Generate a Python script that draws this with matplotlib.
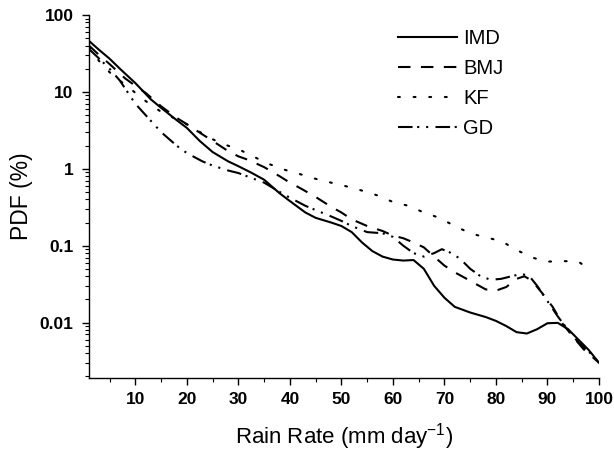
import matplotlib
matplotlib.use("Agg")
import matplotlib.pyplot as plt
from matplotlib.ticker import LogLocator, FixedLocator, FuncFormatter, MultipleLocator, NullFormatter

plt.rcParams['font.family'] = ['Liberation Sans', 'DejaVu Sans']

imd_x = [1, 3, 5, 7, 10, 13, 15, 18, 20, 22.5, 25, 28, 30, 32.5, 35, 38, 40, 43, 45, 48, 50, 52, 54, 56, 58, 60, 62, 64, 66, 68, 70, 72, 75, 78, 80, 82, 84, 86, 88, 90, 92, 94, 96, 98, 100]
imd_y = [46, 35, 27, 20, 13, 8, 6.2, 4.3, 3.4, 2.3, 1.65, 1.25, 1.08, 0.89, 0.72, 0.48, 0.38, 0.27, 0.23, 0.2, 0.18, 0.15, 0.11, 0.085, 0.072, 0.066, 0.064, 0.065, 0.05, 0.03, 0.021, 0.016, 0.0135, 0.0118, 0.0105, 0.009, 0.0075, 0.0072, 0.0082, 0.0098, 0.0099, 0.0082, 0.006, 0.0044, 0.003]

bmj_x = [1, 3, 5, 8, 10, 12, 15, 18, 20, 22, 25, 28, 30, 32, 35, 38, 40, 42, 45, 48, 50, 52, 55, 58, 60, 62, 64, 66, 68, 70, 72, 74, 76, 78, 80, 82, 84, 85.5, 87, 89, 91, 93, 95, 97, 100]
bmj_y = [40, 30, 23, 15, 12, 9.7, 6.5, 4.6, 3.8, 3.1, 2.3, 1.7, 1.45, 1.3, 1.05, 0.8, 0.66, 0.56, 0.43, 0.32, 0.27, 0.22, 0.18, 0.155, 0.135, 0.125, 0.11, 0.095, 0.072, 0.055, 0.045, 0.038, 0.032, 0.027, 0.026, 0.029, 0.037, 0.04, 0.035, 0.024, 0.016, 0.0095, 0.0065, 0.0045, 0.003]

kf_x = [1, 3, 5, 7, 9, 12, 15, 18, 21, 24, 27, 30, 33, 36, 39, 42, 45, 48, 51, 54, 57, 60, 63, 66, 69, 72, 75, 78, 81, 84, 87, 90, 93, 96, 98]
kf_y = [38, 25, 18, 14, 11, 7.6, 5.5, 4.4, 3.5, 2.6, 2.1, 1.8, 1.43, 1.15, 0.97, 0.85, 0.74, 0.66, 0.59, 0.52, 0.45, 0.37, 0.33, 0.27, 0.23, 0.18, 0.145, 0.128, 0.115, 0.088, 0.07, 0.062, 0.063, 0.062, 0.05]

gd_x = [1, 3, 5, 7, 10, 13, 15, 18, 20, 23, 25, 28, 30, 33, 35, 38, 40, 43, 45, 48, 50, 52, 55, 58, 60, 62, 64, 66, 68, 69.5, 71, 73, 75, 77, 79, 81, 83, 85, 86.5, 88, 90, 92, 94, 96, 98, 100]
gd_y = [36, 27, 20, 14, 7, 4.2, 3, 2, 1.6, 1.25, 1.1, 0.95, 0.88, 0.74, 0.66, 0.5, 0.42, 0.33, 0.29, 0.24, 0.21, 0.18, 0.15, 0.145, 0.13, 0.1, 0.08, 0.072, 0.08, 0.09, 0.082, 0.068, 0.05, 0.04, 0.036, 0.037, 0.04, 0.043, 0.04, 0.03, 0.019, 0.012, 0.008, 0.0055, 0.0042, 0.003]

labels = ["IMD", "BMJ", "KF", "GD"]
y_ticks = [0.01, 0.1, 1, 10, 100]
x_ticks = [10, 20, 30, 40, 50, 60, 70, 80, 90, 100]

fig = plt.figure(figsize=(6.14, 4.53), dpi=100)
ax = fig.add_axes([89/614, 1 - 378/453, (599 - 89)/614, (378 - 15)/453])

lw = 1.5
ax.plot(imd_x, imd_y, color='black', lw=lw, ls='-', label=labels[0])
ax.plot(bmj_x, bmj_y, color='black', lw=lw, ls=(0, (6, 5)), label=labels[1])
ax.plot(kf_x, kf_y, color='black', lw=lw, ls=(0, (0.9, 6.6)), dash_capstyle='round', label=labels[2])
ax.plot(gd_x, gd_y, color='black', lw=lw, ls=(0, (7, 2.2, 1, 3.3, 1, 3.5)), label=labels[3])

ax.set_yscale('log')
ax.set_xlim(1, 100)
ax.set_ylim(0.0019, 100)
ax.xaxis.set_major_locator(FixedLocator(x_ticks))
ax.xaxis.set_minor_locator(MultipleLocator(5))
ax.yaxis.set_major_locator(FixedLocator(y_ticks))
ax.yaxis.set_minor_locator(LogLocator(base=10, subs=range(2, 10), numticks=20))
ax.yaxis.set_major_formatter(FuncFormatter(lambda v, p: '%g' % v))
ax.yaxis.set_minor_formatter(NullFormatter())

for s in ['top', 'right']:
    ax.spines[s].set_visible(False)
for s in ['left', 'bottom']:
    ax.spines[s].set_linewidth(1.0)

ax.tick_params(which='major', direction='out', length=5, width=1.0, labelsize=12.5)
ax.tick_params(which='minor', direction='out', length=3, width=0.8)
ax.tick_params(axis='x', which='major', pad=5)
ax.tick_params(axis='y', which='major', pad=6)
for t in ax.get_xticklabels() + ax.get_yticklabels():
    t.set_fontweight('bold')

ax.set_xlabel('Rain Rate (mm day$^{\\mathregular{-1}}$)', fontsize=16, labelpad=10)
ax.set_ylabel('PDF (%)', fontsize=16.5, labelpad=5)

leg = ax.legend(loc='upper left', bbox_to_anchor=(398/614, 1 - 29/453), bbox_transform=fig.transFigure,
                frameon=False, fontsize=14.5, handlelength=2.93, handletextpad=0.3,
                labelspacing=0.54, borderpad=0, borderaxespad=0)

fig.savefig('out.png', dpi=100)
